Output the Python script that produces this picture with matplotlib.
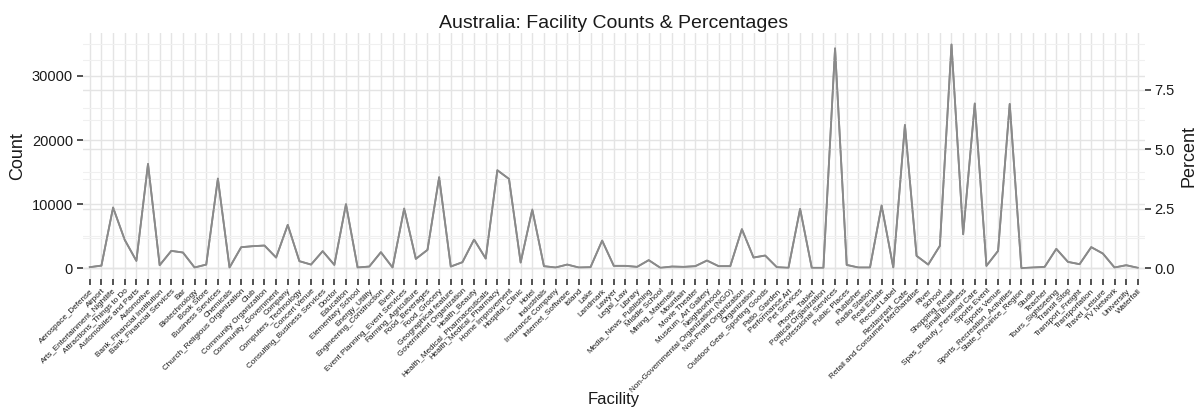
import matplotlib
matplotlib.use("Agg")
import matplotlib.pyplot as plt
from matplotlib.ticker import MultipleLocator
import numpy as np

plt.rcParams['font.family'] = ['Liberation Sans', 'DejaVu Sans']

facilities = [
    "Aerospace_Defense", "Airport", "Arts_Entertainment_Nightlife", "Attractions_Things to Do",
    "Automobiles and Parts", "Automotive", "Bank_Financial Institution", "Bank_Financial Services",
    "Bar", "Biotechnology", "Book Store", "Business Services", "Chemicals",
    "Church_Religious Organization", "Club", "Community Organization", "Community_Government",
    "Company", "Computers_Technology", "Concert Venue", "Consulting_Business Services", "Doctor",
    "Education", "Elementary School", "Energy_Utility", "Engineering_Construction", "Event",
    "Event Planning_Event Services", "Farming_Agriculture", "Food_Beverages", "Food_Grocery",
    "Geographical feature", "Government Organization", "Health_Beauty",
    "Health_Medical_Pharmaceuticals", "Health_Medical_Pharmacy", "Home Improvement",
    "Hospital_Clinic", "Hotel", "Industrials", "Insurance Company", "Internet_Software", "Island",
    "Lake", "Landmark", "Lawyer", "Legal_Law", "Library", "Media_News_Publishing", "Middle School",
    "Mining_Materials", "Mountain", "Movie Theater", "Museum_Art Gallery", "Neighborhood",
    "Non-Governmental Organization (NGO)", "Non-Profit Organization", "Organization",
    "Outdoor Gear_Sporting Goods", "Patio_Garden", "Performance Art", "Pet Services",
    "Phone_Tablet", "Political Organization", "Professional Services", "Public Places",
    "Publisher", "Radio Station", "Real Estate", "Record Label", "Restaurant_Cafe",
    "Retail and Consumer Merchandise", "River", "School", "Shopping_Retail", "Small Business",
    "Spas_Beauty_Personal Care", "Sports Event", "Sports Venue", "Sports_Recreation_Activities",
    "State_Province_Region", "Studio", "Teacher", "Tours_Sightseeing", "Transit Stop",
    "Transport_Freight", "Transportation", "Travel_Leisure", "TV Network", "University",
    "Waterfall",
]

counts = [
    150, 400, 9460, 4420, 1140, 16270, 460, 2700, 2440, 100, 560, 13980, 100,
    3270, 3430, 3530, 1660, 6750, 1090, 560, 2650, 510, 9980,
    100, 250, 2490, 100, 9300, 1450, 2850, 14190, 250, 930, 4470, 1500, 15280,
    13930, 880, 9150, 310, 100, 560, 100, 150, 4300, 360,
    360, 200, 1250, 50, 250, 200, 310, 1190, 310, 310, 6080, 1660, 1970, 150,
    50, 9250, 50, 50, 34300, 510, 100, 100, 9770, 100,
    22350, 1920, 560, 3480, 34900, 5300, 25700, 360, 2700, 25630, 0, 100, 200,
    3010, 980, 620, 3280, 2280, 100, 460, 50,
]

counts = np.array(counts, dtype=float)
percents = counts / counts.sum() * 100
x = np.arange(len(facilities))

line_color = "#8a8a8a"
text_color = "#1a1a1a"

fig = plt.figure(figsize=(12, 4.12), dpi=100)
ax = fig.add_axes([0.069, 0.322, 0.885, 0.597])
ax2 = ax.twinx()

ax.plot(x, counts, color=line_color, lw=1.3)
ax2.plot(x, percents, color=line_color, lw=1.3)

ax.set_xlim(-0.6, len(facilities) - 0.4)
ax.set_xticks(x)
ax.set_xticklabels(facilities, rotation=45, ha="right", va="top",
                   rotation_mode="anchor", fontsize=5.9, color=text_color)

ax.yaxis.set_major_locator(MultipleLocator(10000))
ax.yaxis.set_minor_locator(MultipleLocator(5000))
ax2.yaxis.set_major_locator(MultipleLocator(2.5))
ax2.yaxis.set_minor_locator(MultipleLocator(1.25))

for a in (ax, ax2):
    for s in a.spines.values():
        s.set_visible(False)
    a.grid(True, which="major", color="#e4e4e4", lw=1.0)
    a.grid(True, which="minor", color="#f0f0f0", lw=0.8)
    a.set_axisbelow(True)
    a.tick_params(which="minor", length=0)
    a.tick_params(which="major", length=4, width=1.1, color="#222222",
                  labelsize=10.5, labelcolor=text_color, pad=3)
ax2.grid(False, axis="x")
ax2.set_xlim(ax.get_xlim())
ax.tick_params(axis="x", length=4, labelsize=5.9, pad=2)

ax.set_ylabel("Count", fontsize=13, color=text_color)
ax2.set_ylabel("Percent", fontsize=13, color=text_color)
ax.set_xlabel("Facility", fontsize=12, color=text_color)
ax.xaxis.set_label_coords(0.5, -0.46)
ax.set_title("Australia: Facility Counts & Percentages", fontsize=14, color=text_color, pad=4)

fig.savefig("out.png", dpi=100)
